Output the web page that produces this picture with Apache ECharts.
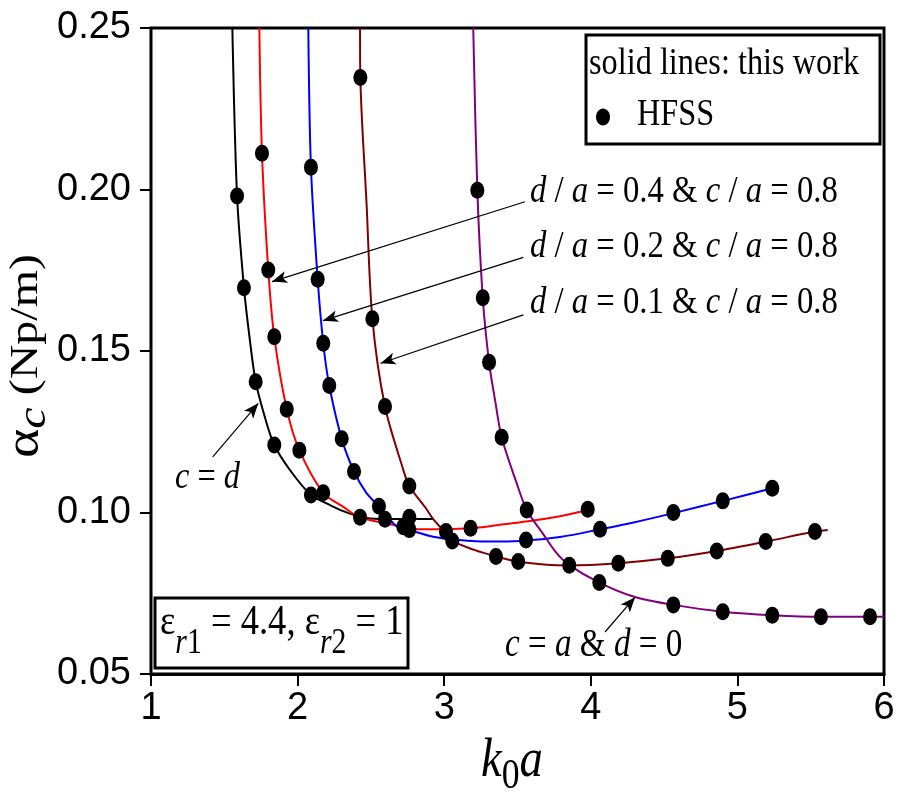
<!DOCTYPE html>
<html>
<head>
<meta charset="utf-8">
<script src="https://cdn.jsdelivr.net/npm/echarts@6/dist/echarts.min.js"></script>
<style>
html, body { margin: 0; padding: 0; background: #fff; }
#main { width: 900px; height: 800px; }
</style>
</head>
<body>
<div id="main"></div>
<script>
// axis ticks
var xTicks = [1, 2, 3, 4, 5, 6];
var yTicks = [0.05, 0.10, 0.15, 0.20, 0.25];

// solid lines (this work), [k0a, alpha_c]
var lineCd = [[1.555, 0.25], [1.587, 0.198], [1.634, 0.1696], [1.67, 0.155], [1.714, 0.1405], [1.78, 0.129],
  [1.841, 0.1209], [1.95, 0.113], [2.091, 0.1054], [2.19, 0.103], [2.289, 0.1008], [2.426, 0.0987],
  [2.56, 0.098], [2.924, 0.098]];
var lineD04 = [[1.739, 0.25], [1.757, 0.2112], [1.80, 0.1751], [1.841, 0.1544], [1.926, 0.132], [2.012, 0.1193],
  [2.175, 0.1061], [2.31, 0.1018], [2.426, 0.0985], [2.721, 0.0956], [2.835, 0.0948], [3.01, 0.0949],
  [3.18, 0.0951], [3.38, 0.0962], [3.52, 0.097], [3.75, 0.0985], [3.979, 0.1008]];
var lineD02 = [[2.073, 0.25], [2.091, 0.2069], [2.137, 0.1722], [2.175, 0.1524], [2.216, 0.1393], [2.301, 0.1228],
  [2.385, 0.1127], [2.47, 0.106], [2.555, 0.1019], [2.6, 0.0995], [2.676, 0.0957], [2.762, 0.0946],
  [2.924, 0.0925], [3.1, 0.0915], [3.3, 0.091], [3.517, 0.0912], [3.8, 0.0925], [4.063, 0.0948],
  [4.3, 0.097], [4.563, 0.0998], [4.9, 0.1036], [5.238, 0.1075]];
var lineD01 = [[2.426, 0.25], [2.428, 0.2347], [2.47, 0.196], [2.51, 0.160], [2.596, 0.1328], [2.721, 0.1132],
  [2.762, 0.1082], [2.88, 0.101], [2.924, 0.098], [3.012, 0.0935], [3.055, 0.0912], [3.2, 0.0885],
  [3.353, 0.0864], [3.505, 0.0848], [3.70, 0.0838], [3.853, 0.0836], [4.188, 0.0843], [4.525, 0.0858],
  [4.859, 0.0881], [5.193, 0.091], [5.529, 0.0941], [5.616, 0.0946]];
var lineCa = [[3.198, 0.25], [3.226, 0.1998], [3.263, 0.1665], [3.306, 0.1465], [3.347, 0.1348], [3.392, 0.1233],
  [3.495, 0.109], [3.563, 0.1008], [3.68, 0.093], [3.767, 0.0874], [3.853, 0.0837], [4.058, 0.0783],
  [4.29, 0.074], [4.563, 0.0714], [4.9, 0.0693], [5.238, 0.0682], [5.57, 0.0677], [5.905, 0.0677], [6.0, 0.0677]];

// HFSS points
var hfssCd = [[1.587, 0.198], [1.634, 0.1696], [1.714, 0.1405], [1.841, 0.1209], [2.091, 0.1054], [2.762, 0.0985]];
var hfssD04 = [[1.757, 0.2112], [1.80, 0.1751], [1.841, 0.1544], [1.926, 0.132], [2.012, 0.1193], [2.175, 0.1061],
  [2.426, 0.0985], [2.721, 0.0956], [3.18, 0.0951], [3.979, 0.101]];
var hfssD02 = [[2.091, 0.2069], [2.137, 0.1722], [2.175, 0.1524], [2.216, 0.1393], [2.301, 0.1228], [2.385, 0.1127],
  [2.555, 0.1019], [2.596, 0.0979], [2.762, 0.0947], [3.558, 0.0915], [4.063, 0.0948], [4.563, 0.1],
  [4.9, 0.1036], [5.238, 0.1075]];
var hfssD01 = [[2.428, 0.2347], [2.51, 0.160], [2.596, 0.1328], [2.762, 0.1082], [3.012, 0.0941], [3.055, 0.0912],
  [3.353, 0.0864], [3.505, 0.0848], [4.188, 0.0843], [4.525, 0.0858], [4.859, 0.0881], [5.193, 0.091],
  [5.529, 0.0941]];
var hfssCa = [[3.226, 0.1998], [3.263, 0.1665], [3.306, 0.1465], [3.392, 0.1233], [3.563, 0.1008], [3.853, 0.0837],
  [4.058, 0.0783], [4.563, 0.0714], [4.9, 0.0693], [5.238, 0.0682], [5.57, 0.0677], [5.905, 0.0677]];

// annotation arrows, from label to curve (data coords)
var arrows = [
  [[3.551, 0.1962], [1.826, 0.1715]],
  [[3.54, 0.1790], [2.173, 0.1594]],
  [[3.54, 0.1612], [2.566, 0.1462]],
  [[1.421, 0.1172], [1.732, 0.1338]],
  [[4.097, 0.0630], [4.302, 0.0738]]
];

var serif = "'Liberation Serif', 'Times New Roman', serif";
var squeeze = 0.85;

function curve(data, color) {
  return {
    type: 'line', data: data, showSymbol: false, smooth: 0.3,
    lineStyle: { color: color, width: 2 }, silent: true, z: 2
  };
}

function dots(data) {
  return {
    type: 'scatter', data: data, symbol: 'circle', symbolSize: [14, 17],
    itemStyle: { color: '#000', opacity: 1 }, silent: true, z: 5
  };
}

// text helper: italic tokens {i|..}, subscripts {s|..}, {si|..}
function txt(x, y, text, size, sub, shift, opts) {
  opts = opts || {};
  var lh = size * 1.2;
  return {
    type: 'text', x: x, y: y,
    rotation: opts.rotation || 0,
    scaleX: opts.rotation ? 1 : squeeze,
    scaleY: opts.rotation ? squeeze : 1,
    silent: true, z: 100,
    style: {
      text: text, fill: '#000',
      fontFamily: serif, fontSize: size, lineHeight: lh,
      align: opts.align || 'left', verticalAlign: 'middle',
      rich: {
        i: { fontFamily: serif, fontSize: size, fontStyle: 'italic', lineHeight: lh },
        g: { fontFamily: serif, fontSize: opts.gSize || size, lineHeight: lh },
        s: { fontFamily: serif, fontSize: sub, lineHeight: lh, padding: [shift * 2, 0, 0, 0] },
        si: { fontFamily: serif, fontSize: sub, fontStyle: 'italic', lineHeight: lh, padding: [shift * 2, 0, 0, 0] }
      }
    }
  };
}

var chart = echarts.init(document.getElementById('main'));

var option = {
  animation: false,
  backgroundColor: '#fff',
  grid: { left: 151, right: 16, top: 28, bottom: 126, show: true, borderColor: '#000', borderWidth: 3 },
  xAxis: {
    type: 'value', min: xTicks[0], max: xTicks[xTicks.length - 1], interval: 1,
    axisLine: { show: true, lineStyle: { color: '#000', width: 3 } },
    axisTick: { show: true, inside: false, length: 12, lineStyle: { color: '#000', width: 2 } },
    axisLabel: { color: '#000', fontFamily: "'Liberation Sans', Arial, sans-serif", fontSize: 38, margin: 16 },
    splitLine: { show: false }
  },
  yAxis: {
    type: 'value', min: yTicks[0], max: yTicks[yTicks.length - 1], interval: 0.05,
    axisLine: { show: true, lineStyle: { color: '#000', width: 2 } },
    axisTick: { show: true, inside: false, length: 11, lineStyle: { color: '#000', width: 2 } },
    axisLabel: {
      color: '#000', fontFamily: "'Liberation Sans', Arial, sans-serif", fontSize: 38, margin: 20,
      formatter: function (v) { return v.toFixed(2); }
    },
    splitLine: { show: false }
  },
  series: [
    curve(lineCd, '#000000'),
    curve(lineD04, '#ff0000'),
    curve(lineD02, '#0000ff'),
    curve(lineD01, '#800000'),
    curve(lineCa, '#800080'),
    dots(hfssCd), dots(hfssD04), dots(hfssD02), dots(hfssD01), dots(hfssCa),
    {
      type: 'line', data: [], silent: true, z: 4,
      markLine: {
        silent: true, animation: false,
        symbol: ['none', 'arrow'], symbolSize: [9, 15],
        lineStyle: { color: '#000', width: 1.2, type: 'solid' },
        label: { show: false },
        emphasis: { disabled: true },
        data: arrows.map(function (a) { return [{ coord: a[0] }, { coord: a[1] }]; })
      }
    }
  ],
  graphic: [
    // legend box
    { type: 'rect', shape: { x: 586, y: 35, width: 294, height: 109 }, style: { fill: '#fff', stroke: '#000', lineWidth: 3 }, z: 90, silent: true },
    txt(589, 64, 'solid lines: this work', 38, 0, 0),
    { type: 'ellipse', shape: { cx: 603, cy: 117, rx: 7, ry: 8.5 }, style: { fill: '#000' }, z: 100, silent: true },
    txt(637, 115, 'HFSS', 38, 0, 0),
    // curve labels
    txt(530, 192, '{i|d} / {i|a} = 0.4 & {i|c} / {i|a} = 0.8', 38.5, 0, 0),
    txt(530, 247, '{i|d} / {i|a} = 0.2 & {i|c} / {i|a} = 0.8', 38.5, 0, 0),
    txt(530, 303, '{i|d} / {i|a} = 0.1 & {i|c} / {i|a} = 0.8', 38.5, 0, 0),
    txt(175, 478, '{i|c} = {i|d}', 38, 0, 0),
    txt(505, 646, '{i|c} = {i|a} & {i|d} = 0', 39, 0, 0),
    // permittivity box
    { type: 'rect', shape: { x: 155, y: 598, width: 253, height: 70 }, style: { fill: '#fff', stroke: '#000', lineWidth: 3 }, z: 90, silent: true },
    txt(160, 623, 'ε{si|r}{s|1} = 4.4, ε{si|r}{s|2} = 1', 43, 35, 21),
    // axis names
    txt(512, 762, '{i|k}{s|0}{i|a}', 55, 42, 15, { align: 'center' }),
    txt(26, 356, '{g|α}{si|c} (Np/m)', 48, 48, 10, { rotation: Math.PI / 2, align: 'center', gSize: 56 })
  ]
};

chart.setOption(option);
</script>
</body>
</html>
